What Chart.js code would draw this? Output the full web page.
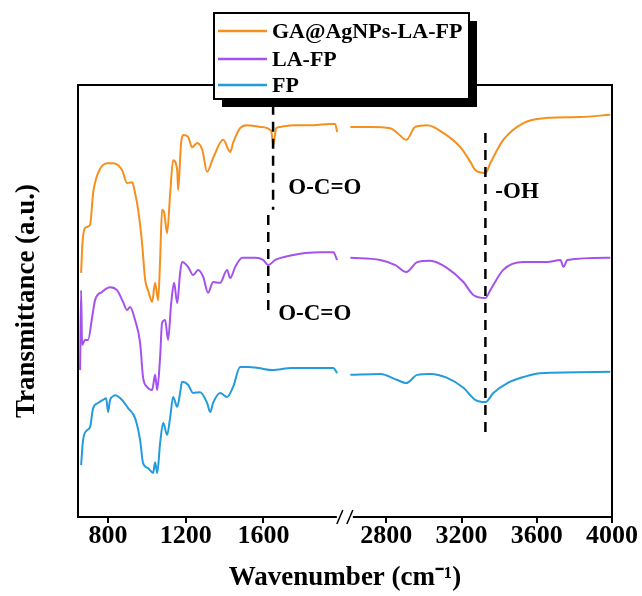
<!DOCTYPE html>
<html><head><meta charset="utf-8">
<script src="https://cdn.jsdelivr.net/npm/chart.js@4/dist/chart.umd.min.js"></script>
<style>html,body{margin:0;padding:0;background:#fff;}#wrap{width:642px;height:596px;}</style>
</head><body><div id="wrap"><canvas id="c" width="642" height="596"></canvas></div>
<script>
// ---- data (wavenumber in cm-1, transmittance in arbitrary units) ----
const tickLabels = [800, 1200, 1600, 2800, 3200, 3600, 4000];
const seriesNames = ['GA@AgNPs-LA-FP', 'LA-FP', 'FP'];
const seriesColors = ['#F5901E', '#A452EE', '#239BDC'];

const gaWave = [661,668,681,707,723,748,795,826,872,898,924,939,955,975,991,1006,1027,1042,1058,1068,1078,1089,1104,1120,1135,1156,1161,1176,1187,1212,1233,1259,1285,1310,1341,1393,1429,1444,1480,1516,1584,1640,1651,1666,1687,1754,1857,1944,1970,1980,
  2609,2715,2821,2859,2906,2954,3018,3103,3194,3247,3273,3327,3353,3422,3529,3656,3832,3991];
const gaT = [56.5,63.4,66.9,67.6,75.0,79.6,81.9,81.9,80.3,77.3,77.5,75.0,71.1,63.4,54.9,52.5,49.8,54.2,50.2,59.5,71.1,70.4,65.7,75.0,82.6,80.3,75.7,86.6,88.4,88.0,85.6,86.6,85.0,79.9,83.1,87.3,84.5,86.6,90.0,90.7,90.3,89.4,86.1,90.0,90.3,90.7,90.7,91.0,91.0,89.1,
  90.3,90.3,90.0,88.9,87.3,90.3,90.7,88.9,85.6,82.2,80.3,79.6,81.9,87.3,91.2,92.4,92.6,93.1];

const laWave = [656,661,666,681,697,718,733,769,810,846,877,898,913,939,965,980,1001,1027,1042,1053,1068,1078,1094,1109,1125,1140,1156,1171,1181,1212,1238,1264,1290,1315,1341,1377,1413,1429,1455,1491,1558,1599,1625,1661,1748,1815,1903,1960,1980,
  2609,2768,2848,2906,2965,3034,3124,3210,3263,3327,3353,3422,3529,3656,3726,3742,3763,3991];
const laT = [34.0,52.5,39.8,41.0,41.0,46.3,50.2,52.1,53.2,52.5,49.8,47.9,48.6,45.6,40.3,32.4,30.1,29.4,32.9,29.4,37.0,44.9,45.6,41.0,49.5,54.2,49.5,56.5,59.0,57.9,56.0,57.2,55.6,51.9,54.4,54.2,57.2,55.3,57.9,60.0,60.0,59.5,58.3,59.5,60.6,61.1,61.3,61.3,59.5,
  60.0,59.5,58.3,56.7,59.0,59.3,57.6,54.4,51.4,50.7,52.5,57.2,59.0,59.0,59.5,57.9,59.5,60.0];

const fpWave = [661,671,692,707,723,748,774,790,800,810,821,836,872,903,939,965,980,1006,1032,1042,1053,1068,1084,1104,1120,1135,1156,1171,1181,1212,1238,1274,1310,1326,1341,1377,1413,1444,1480,1522,1573,1645,1748,1815,1960,1980,
  2609,2768,2859,2906,2965,3034,3124,3210,3273,3327,3369,3444,3529,3619,3991];
const fpT = [12.0,17.8,20.1,20.8,25.2,26.4,27.1,27.5,24.3,27.1,27.8,28.2,27.1,25.2,22.9,17.8,12.5,11.3,10.2,12.7,10.2,17.1,21.8,19.0,23.1,27.8,25.5,28.7,31.3,30.6,28.7,28.9,26.4,24.3,26.4,28.7,27.8,30.1,34.7,34.7,34.5,34.0,34.5,34.5,34.5,33.3,
  32.9,33.1,31.7,31.0,32.9,33.1,32.2,29.9,27.1,26.6,28.7,31.0,32.4,33.3,33.6];

// dashed marker lines: wavenumber, top value, bottom value
const markWave = [1650, 1625, 3327];
const markTop = [95.4, 69.9, 88.9];
const markBottom = [71.1, 47.2, 19.4];
// annotation texts
const annoText = ['O-C=O', 'O-C=O', '-OH'];
const annoWave = [1728, 1676, 3380];
const annoT = [76.2, 47.0, 75.2];

// ---- broken axis mapping (left 650-2000, right 2600-4000) ----
function toV(w) { return w <= 2300 ? w : 2233 + (w - 2800) * 0.969; }
function buildSeries(ws, ts) {
  const out = [];
  for (let i = 0; i < ws.length; i++) {
    if (i > 0 && ws[i - 1] <= 2300 && ws[i] > 2300) out.push({x: toV(2300), y: null});
    out.push({x: toV(ws[i]), y: ts[i]});
  }
  return out;
}
const waves = [gaWave, laWave, fpWave];
const vals = [gaT, laT, fpT];
const SERIF = "'Liberation Serif', 'Times New Roman', serif";

const datasets = [];
for (let s = 0; s < 3; s++) {
  datasets.push({label: seriesNames[s], data: buildSeries(waves[s], vals[s]), borderColor: seriesColors[s],
    borderWidth: 2, pointRadius: 0, cubicInterpolationMode: 'monotone', spanGaps: false, order: 2});
}
for (let m = 0; m < markWave.length; m++) {
  datasets.push({label: '_mark' + m, data: [{x: toV(markWave[m]), y: markTop[m]}, {x: toV(markWave[m]), y: markBottom[m]}],
    borderColor: '#000', borderWidth: 2.5, borderDash: [10, 7], pointRadius: 0, order: 1});
}

const framePlugin = {
  id: 'frame',
  afterDraw(chart) {
    const {ctx, chartArea: a, scales} = chart;
    const xs = scales.x, ys = scales.y;
    ctx.save();
    // annotation texts
    ctx.fillStyle = '#000';
    ctx.font = 'bold 23px ' + SERIF;
    ctx.textAlign = 'left'; ctx.textBaseline = 'middle';
    for (let i = 0; i < annoText.length; i++) {
      ctx.fillText(annoText[i], xs.getPixelForValue(toV(annoWave[i])), ys.getPixelForValue(annoT[i]));
    }
    // frame
    ctx.strokeStyle = '#000'; ctx.lineWidth = 2;
    ctx.strokeRect(a.left, a.top, a.right - a.left, a.bottom - a.top);
    // axis break
    const xb = (xs.getPixelForValue(toV(2000)) + xs.getPixelForValue(toV(2600))) / 2;
    ctx.fillStyle = '#fff';
    ctx.fillRect(xb - 8, a.bottom - 2, 16, 4);
    ctx.lineWidth = 1.5;
    for (const dx of [-5, 5]) {
      ctx.beginPath();
      ctx.moveTo(xb + dx - 3, a.bottom + 7);
      ctx.lineTo(xb + dx + 3, a.bottom - 7);
      ctx.stroke();
    }
    // legend box with shadow
    const bx = 214, by = 13, bw = 255, bh = 86;
    ctx.fillStyle = '#000';
    ctx.fillRect(bx + 8, by + 8, bw, bh);
    ctx.fillStyle = '#fff';
    ctx.fillRect(bx, by, bw, bh);
    ctx.lineWidth = 2; ctx.strokeStyle = '#000';
    ctx.strokeRect(bx, by, bw, bh);
    const rows = [31, 59, 85];
    ctx.font = 'bold 22px ' + SERIF;
    ctx.textAlign = 'left'; ctx.textBaseline = 'middle';
    for (let s = 0; s < 3; s++) {
      const ds = chart.data.datasets[s];
      ctx.strokeStyle = ds.borderColor; ctx.lineWidth = 2.5;
      ctx.beginPath(); ctx.moveTo(218, rows[s]); ctx.lineTo(267, rows[s]); ctx.stroke();
      ctx.fillStyle = '#000';
      ctx.fillText(ds.label, 272, rows[s] + 1);
    }
    ctx.restore();
  }
};

new Chart(document.getElementById('c'), {
  type: 'line',
  data: {datasets},
  options: {
    responsive: false, animation: false, devicePixelRatio: 1,
    layout: {padding: {left: 0, right: 30, top: 85, bottom: 0}},
    plugins: {legend: {display: false}, tooltip: {enabled: false}},
    scales: {
      x: {
        type: 'linear', min: toV(645), max: toV(4000),
        afterBuildTicks(scale) { scale.ticks = tickLabels.map(w => ({value: toV(w)})); },
        afterFit(scale) { scale.height = 79; },
        ticks: {autoSkip: false, maxRotation: 0, padding: 0, color: '#000',
          font: {family: SERIF, size: 26, weight: 'bold', lineHeight: 1},
          callback: (v, i) => String(tickLabels[i])},
        grid: {display: true, drawOnChartArea: false, drawTicks: true, tickLength: 6, color: '#000', lineWidth: 2},
        border: {display: false},
        title: {display: true, text: 'Wavenumber (cm\u207B\u00B9)', color: '#000',
          font: {family: SERIF, size: 27, weight: 'bold', lineHeight: 1.2}, padding: {top: 0, bottom: 2}}
      },
      y: {
        min: 0, max: 100,
        afterFit(scale) { scale.width = 78; },
        ticks: {display: false},
        grid: {display: false, drawTicks: false},
        border: {display: false},
        title: {display: true, text: 'Transmittance (a.u.)', color: '#000',
          font: {family: SERIF, size: 27, weight: 'bold', lineHeight: 1.2}, padding: {top: 11, bottom: 0}}
      }
    }
  },
  plugins: [framePlugin]
});
</script></body></html>
